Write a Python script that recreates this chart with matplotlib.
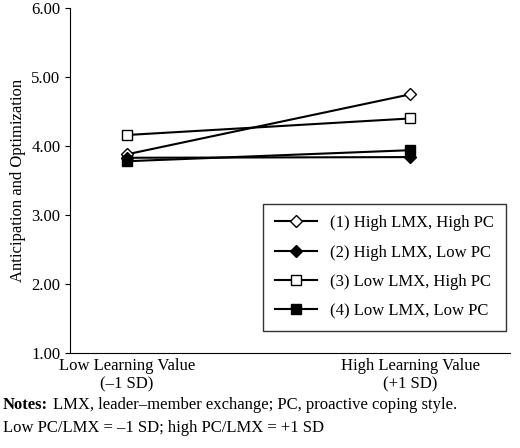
import matplotlib
matplotlib.use("Agg")
import matplotlib.pyplot as plt

plt.rcParams['font.family'] = ['Liberation Serif', 'DejaVu Serif']

categories = ["Low Learning Value\n(\u20131 SD)", "High Learning Value\n(+1 SD)"]
series_names = ["(1) High LMX, High PC", "(2) High LMX, Low PC",
                "(3) Low LMX, High PC", "(4) Low LMX, Low PC"]
s1 = [3.88, 4.75]
s2 = [3.83, 3.84]
s3 = [4.16, 4.40]
s4 = [3.78, 3.94]

fig = plt.figure(figsize=(5.2, 4.48), dpi=100)
ax = fig.add_axes([0.135, 0.212, 0.845, 0.77])
x = [0, 1]
styles = [("D", "white", 6), ("D", "black", 6), ("s", "white", 7), ("s", "black", 7)]
for vals, name, (m, fc, ms) in zip([s1, s2, s3, s4], series_names, styles):
    ax.plot(x, vals, color="black", lw=1.5, marker=m, markerfacecolor=fc,
            markeredgecolor="black", markersize=ms, label=name)
ax.set_ylim(1, 6)
ax.set_yticks([1, 2, 3, 4, 5, 6])
ax.set_yticklabels([f"{v:.2f}" for v in [1, 2, 3, 4, 5, 6]], fontsize=12)
ax.set_xlim(-0.2, 1.35)
ax.set_xticks(x)
ax.set_xticklabels(categories, fontsize=12)
ax.tick_params(axis='x', length=0)
ax.set_ylabel("Anticipation and Optimization", fontsize=12)
for sp in ["top", "right"]:
    ax.spines[sp].set_visible(False)
leg = ax.legend(loc="lower right", bbox_to_anchor=(1.01, 0.04), fontsize=12,
                frameon=True, fancybox=False, edgecolor="black", borderpad=0.7,
                labelspacing=0.8, handlelength=2.5)
t = fig.text(0.005, 0.095, "Notes:", fontsize=12, fontweight="bold", va="center")
fig.canvas.draw()
bb = t.get_window_extent().transformed(fig.transFigure.inverted())
fig.text(bb.x1 + 0.01, 0.095, "LMX, leader\u2013member exchange; PC, proactive coping style.",
         fontsize=12, va="center")
fig.text(0.005, 0.045, "Low PC/LMX = \u20131 SD; high PC/LMX = +1 SD", fontsize=12, va="center")
fig.savefig("out.png", dpi=100)
